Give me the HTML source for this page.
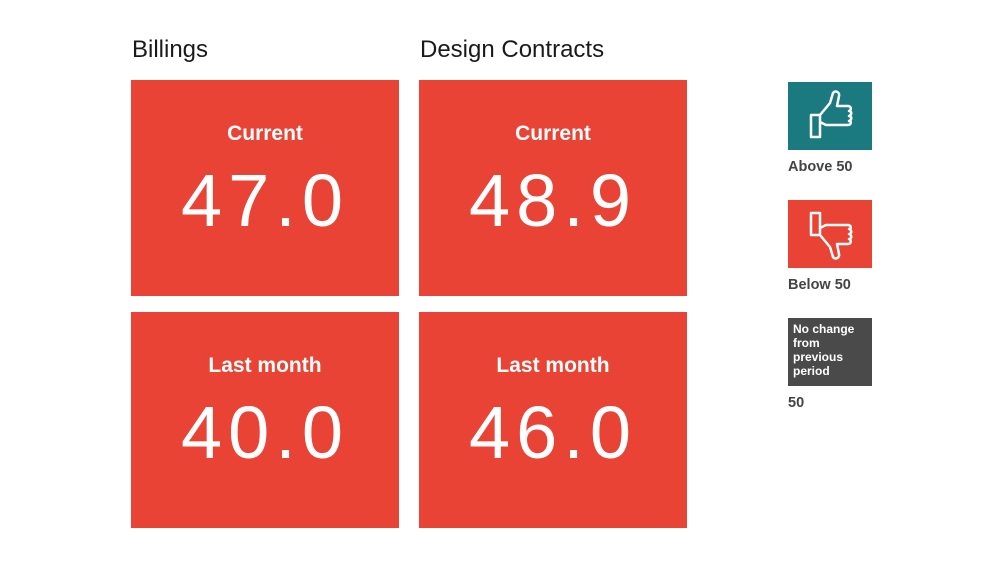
<!DOCTYPE html>
<html><head><meta charset="utf-8"><style>
body{margin:0;width:1000px;height:563px;background:#fff;font-family:"Liberation Sans",sans-serif;position:relative;overflow:hidden}
.t{position:absolute;font-size:24px;color:#1a1a1a;top:36px}
.tile{position:absolute;width:268px;height:216px;background:#e84335;color:#fff;text-align:center}
.lab{position:absolute;left:0;right:0;top:42px;font-size:21px;font-weight:bold}
.val{position:absolute;left:0;right:0;top:84px;font-size:74px;letter-spacing:6px;font-weight:normal;line-height:74px}
.lb{position:absolute;left:788px;width:84px;height:68px}
.lt{position:absolute;left:788px;font-size:14.5px;font-weight:bold;color:#444}
</style></head><body>
<div class="t" style="left:132px">Billings</div>
<div class="t" style="left:420px">Design Contracts</div>
<div id="tiles"></div>
<div class="lb" style="top:82px;background:#1b7a80">
<svg width="84" height="68" viewBox="0 0 84 68"><path d="M23 33h9v22h-9z M32 33l10-12 3-10c2-3 7-1 6 3l-2 10h11c3 0 4 4 1 5 3 0 3 4 0 5 3 0 3 4 0 5 3 0 2 4-1 4H38l-6-3" fill="none" stroke="#fff" stroke-width="2.5" stroke-linejoin="round"/></svg></div>
<div class="lt" style="top:159px">Above 50</div>
<div class="lb" style="top:200px;background:#e84335">
<svg width="84" height="68" viewBox="0 0 84 68"><path d="M23 13h9v22h-9z M32 35l10 12 3 10c2 3 7 1 6-3l-2-10h11c3 0 4-4 1-5 3 0 3-4 0-5 3 0 3-4 0-5 3 0 2-4-1-4H38l-6 3" fill="none" stroke="#fff" stroke-width="2.5" stroke-linejoin="round"/></svg></div>
<div class="lt" style="top:277px">Below 50</div>
<div class="lb" style="top:318px;background:#4a4a4a;color:#fff;font-size:12px;font-weight:bold;line-height:14px;box-sizing:border-box;padding:4px 5px">No change from previous period</div>
<div class="lt" style="top:395px">50</div>
<script>
const metrics=["Billings","Design Contracts"];
const periods=["Current","Last month"];
const values=[[47.0,40.0],[48.9,46.0]];
const box=document.getElementById('tiles');
metrics.forEach((m,i)=>periods.forEach((p,j)=>{
 const d=document.createElement('div');
 d.className='tile';
 
 
 d.style.left=(131+i*288)+'px';d.style.top=(80+j*232)+'px';
 d.innerHTML='<div class="lab">'+p+'</div><div class="val">'+values[i][j].toFixed(1)+'</div>';
 box.appendChild(d);
}));
</script>
</body></html>
